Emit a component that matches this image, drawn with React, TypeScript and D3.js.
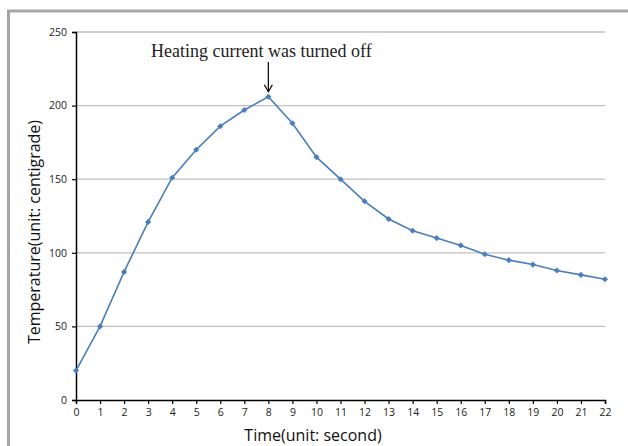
import { useEffect, useRef } from "react";
import * as d3 from "d3";

const seconds = d3.range(0, 23);
const temperatures = [
  20, 50, 87, 121, 151, 170, 186, 197, 206, 188, 165, 150, 135, 123, 115, 110,
  105, 99, 95, 92, 88, 85, 82,
];
const yTicks = [0, 50, 100, 150, 200, 250];
const annotation = "Heating current was turned off";
const peakSecond = 8;

export default function App() {
  const svgRef = useRef<SVGSVGElement>(null);

  useEffect(() => {
    if (!svgRef.current) return;
    const svg = d3.select(svgRef.current);
    svg.selectAll("*").remove();

    const width = 628;
    const height = 446;
    const margin = { top: 32, right: 23, bottom: 46, left: 76 };

    const x = d3
      .scaleLinear()
      .domain([0, 22])
      .range([margin.left, width - margin.right]);
    const y = d3
      .scaleLinear()
      .domain([0, 250])
      .range([height - margin.bottom, margin.top]);

    svg.attr("width", width).attr("height", height).attr("viewBox", `0 0 ${width} ${height}`);

    svg.append("rect").attr("width", width).attr("height", height).attr("fill", "#fff");

    // outer frame (top and left edges visible)
    svg
      .append("path")
      .attr("d", `M8.5,${height} V11 H${width}`)
      .attr("fill", "none")
      .attr("stroke", "#a6a6a6")
      .attr("stroke-width", 3);

    // gridlines
    svg
      .append("g")
      .selectAll("line")
      .data(yTicks.filter((d) => d > 0))
      .enter()
      .append("line")
      .attr("x1", x(0))
      .attr("x2", x(22))
      .attr("y1", (d) => y(d))
      .attr("y2", (d) => y(d))
      .attr("stroke", "#c0c0c0")
      .attr("stroke-width", 1.3);

    const tickFont = "'Open Sans', 'DejaVu Sans', sans-serif";

    // y axis
    const yAxis = svg
      .append("g")
      .attr("transform", `translate(${x(0)},0)`)
      .call(d3.axisLeft(y).tickValues(yTicks).tickSize(4).tickPadding(5));
    yAxis.select(".domain").attr("stroke", "#000").attr("stroke-width", 1.5);
    yAxis.selectAll(".tick line").attr("stroke", "#000").attr("stroke-width", 1.2);
    yAxis
      .selectAll("text")
      .attr("fill", "#222")
      .style("font-family", tickFont)
      .style("font-size", "10.5px");

    // x axis
    const xAxis = svg
      .append("g")
      .attr("transform", `translate(0,${y(0)})`)
      .call(d3.axisBottom(x).tickValues(seconds).tickFormat(d3.format("d")).tickSize(4).tickPadding(5));
    xAxis.select(".domain").attr("stroke", "#000").attr("stroke-width", 1.5);
    xAxis.selectAll(".tick line").attr("stroke", "#000").attr("stroke-width", 1.2);
    xAxis
      .selectAll("text")
      .attr("fill", "#222")
      .style("font-family", tickFont)
      .style("font-size", "10.5px");

    // line
    const points = seconds.map((s, i) => [s, temperatures[i]] as [number, number]);
    svg
      .append("path")
      .datum(points)
      .attr("fill", "none")
      .attr("stroke", "#4a7ebb")
      .attr("stroke-width", 1.6)
      .attr(
        "d",
        d3
          .line<[number, number]>()
          .x((d) => x(d[0]))
          .y((d) => y(d[1]))
      );

    // diamond markers
    svg
      .append("g")
      .selectAll("path")
      .data(points)
      .enter()
      .append("path")
      .attr("transform", (d) => `translate(${x(d[0])},${y(d[1])})`)
      .attr("d", d3.symbol().type(d3.symbolDiamond2).size(24)())
      .attr("fill", "#4a7ebb");

    // annotation
    const px = x(peakSecond);
    svg
      .append("text")
      .attr("x", px - 7)
      .attr("y", 57)
      .attr("text-anchor", "middle")
      .style("font-family", "'Liberation Serif', 'DejaVu Serif', serif")
      .style("font-size", "18px")
      .attr("fill", "#222")
      .text(annotation);

    const arrowTop = 62;
    const arrowBottom = y(temperatures[peakSecond]) - 5;
    svg
      .append("line")
      .attr("x1", px)
      .attr("x2", px)
      .attr("y1", arrowTop)
      .attr("y2", arrowBottom)
      .attr("stroke", "#111")
      .attr("stroke-width", 1.3);
    svg
      .append("path")
      .attr("d", `M${px - 4},${arrowBottom - 7} L${px},${arrowBottom} L${px + 4},${arrowBottom - 7}`)
      .attr("fill", "none")
      .attr("stroke", "#111")
      .attr("stroke-width", 1.3);

    // axis titles
    svg
      .append("text")
      .attr("x", 313)
      .attr("y", 441)
      .attr("text-anchor", "middle")
      .style("font-family", tickFont)
      .style("font-size", "16px")
      .attr("fill", "#111")
      .text("Time(unit: second)");

    svg
      .append("text")
      .attr("transform", `translate(40,232) rotate(-90)`)
      .attr("text-anchor", "middle")
      .style("font-family", tickFont)
      .style("font-size", "16px")
      .attr("fill", "#111")
      .text("Temperature(unit: centigrade)");
  }, []);

  return (
    <div style={{ position: "absolute", left: 0, top: 0 }}>
      <svg ref={svgRef} style={{ display: "block" }}></svg>
    </div>
  );
}
